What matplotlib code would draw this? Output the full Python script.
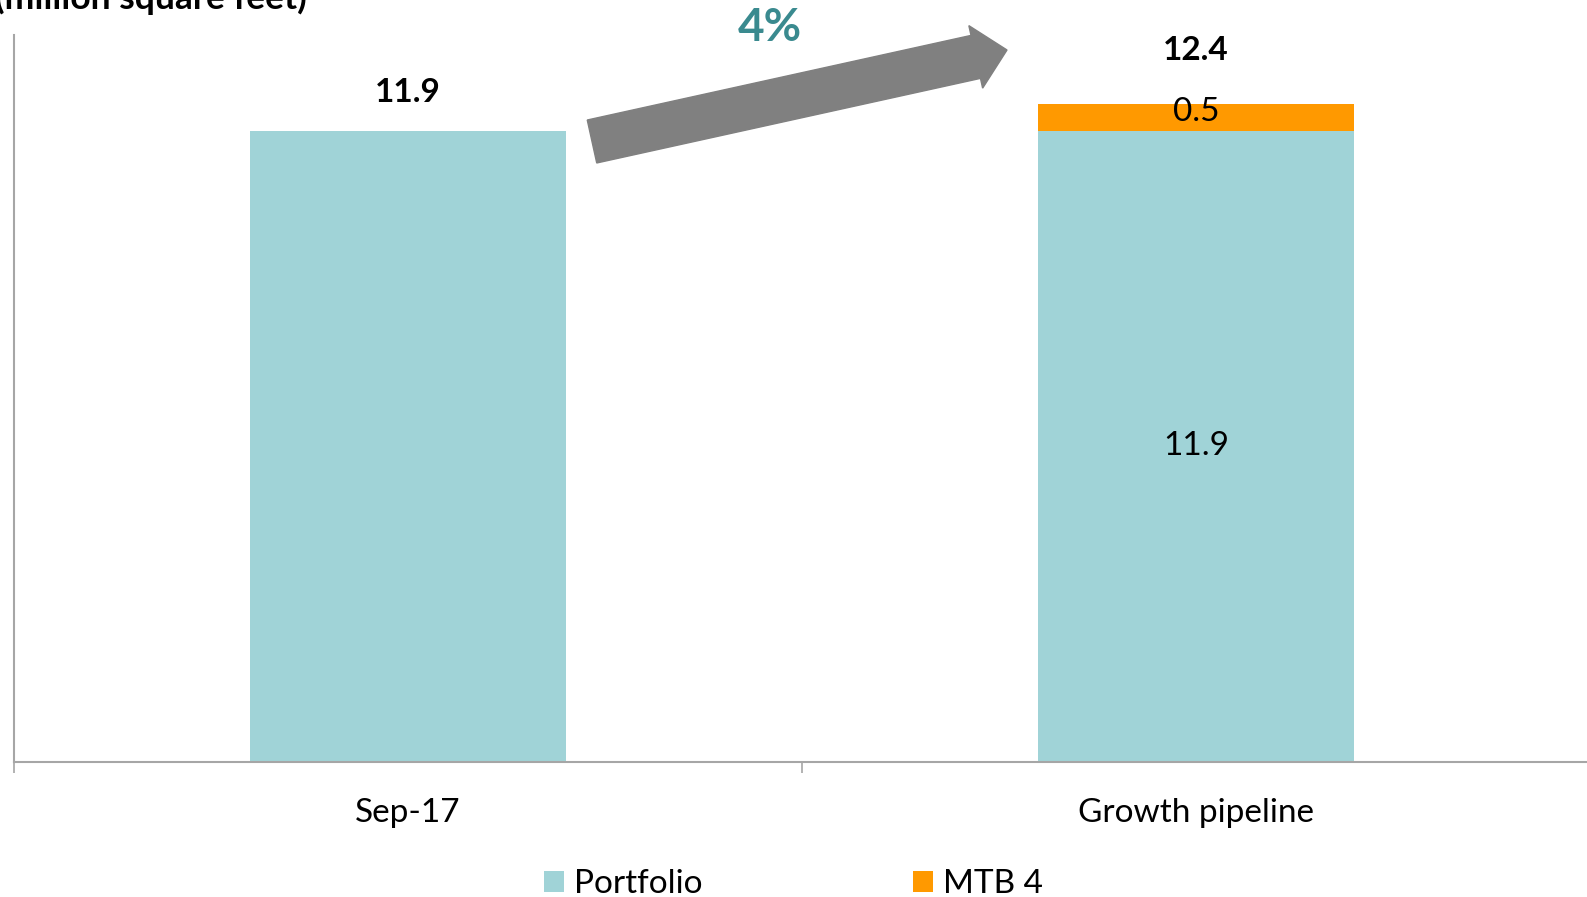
import matplotlib
matplotlib.use("Agg")
import matplotlib.pyplot as plt
from matplotlib.patches import FancyArrow
from matplotlib.transforms import IdentityTransform

# data
categories = ["Sep-17", "Growth pipeline"]
portfolio = [11.9, 11.9]
mtb4 = [0.0, 0.5]
totals = [11.9, 12.4]
growth_label = "4%"

plt.rcParams['font.family'] = ['Lato', 'DejaVu Sans']

fig = plt.figure(figsize=(15.87, 8.97), dpi=100)
ax = fig.add_axes([14 / 1587, 135 / 897, 1576 / 1587, 727 / 897])

x = range(len(categories))
ax.bar(x, portfolio, width=0.4, color="#a0d3d7", label="Portfolio")
ax.bar(x, mtb4, width=0.4, bottom=portfolio, color="#ff9900", label="MTB 4")

ax.set_xlim(-0.5, 1.5)
ax.set_ylim(0, 13.7)

# labels
ax.text(0, totals[0] + 0.72, f"{totals[0]:.1f}", ha="center", va="center",
        fontsize=24, fontweight="bold")
ax.text(1, totals[1] + 1.0, f"{totals[1]:.1f}", ha="center", va="center",
        fontsize=24, fontweight="bold")
ax.text(1, portfolio[1] / 2, f"{portfolio[1]:.1f}", ha="center", va="center", fontsize=24)
ax.text(1, portfolio[1] + mtb4[1] / 2 + 0.1, f"{mtb4[1]:.1f}", ha="center", va="center", fontsize=24)

# arrow (pixel coords)
tail = (592, 897 - 141.5)
tip = (1007, 897 - 50)
arr = FancyArrow(tail[0], tail[1], tip[0] - tail[0], tip[1] - tail[1],
                 width=44, head_width=64, head_length=32,
                 length_includes_head=True, color="#808080",
                 transform=IdentityTransform(), figure=fig)
fig.patches.append(arr)
fig.text(770 / 1587, 1 - 28 / 897, growth_label, ha="center", va="center",
         fontsize=33, fontweight="bold", color="#3a8a8f")

fig.text(-0.003, 1 - 9 / 897, "(million square feet)", ha="left", va="baseline",
         fontsize=25.5, fontweight="bold")

# axes styling
for s in ["top", "right"]:
    ax.spines[s].set_visible(False)
for s in ["left", "bottom"]:
    ax.spines[s].set_color("#a6a6a6")
    ax.spines[s].set_linewidth(1.5)
ax.set_yticks([])
ax.set_xticks(list(x))
ax.set_xticklabels(categories, fontsize=24)
ax.tick_params(axis="x", which="major", length=0, pad=26)
ax.set_xticks([-0.5, 0.5, 1.5], minor=True)
ax.tick_params(axis="x", which="minor", length=8, width=1.2, color="#a6a6a6")

ax.legend(loc="center", bbox_to_anchor=(0.5, 13 / 897), bbox_transform=fig.transFigure,
          ncol=2, frameon=False, fontsize=24, handlelength=0.6, handleheight=0.6,
          handletextpad=0.3, columnspacing=6.3)

fig.savefig("out.png", dpi=100)
